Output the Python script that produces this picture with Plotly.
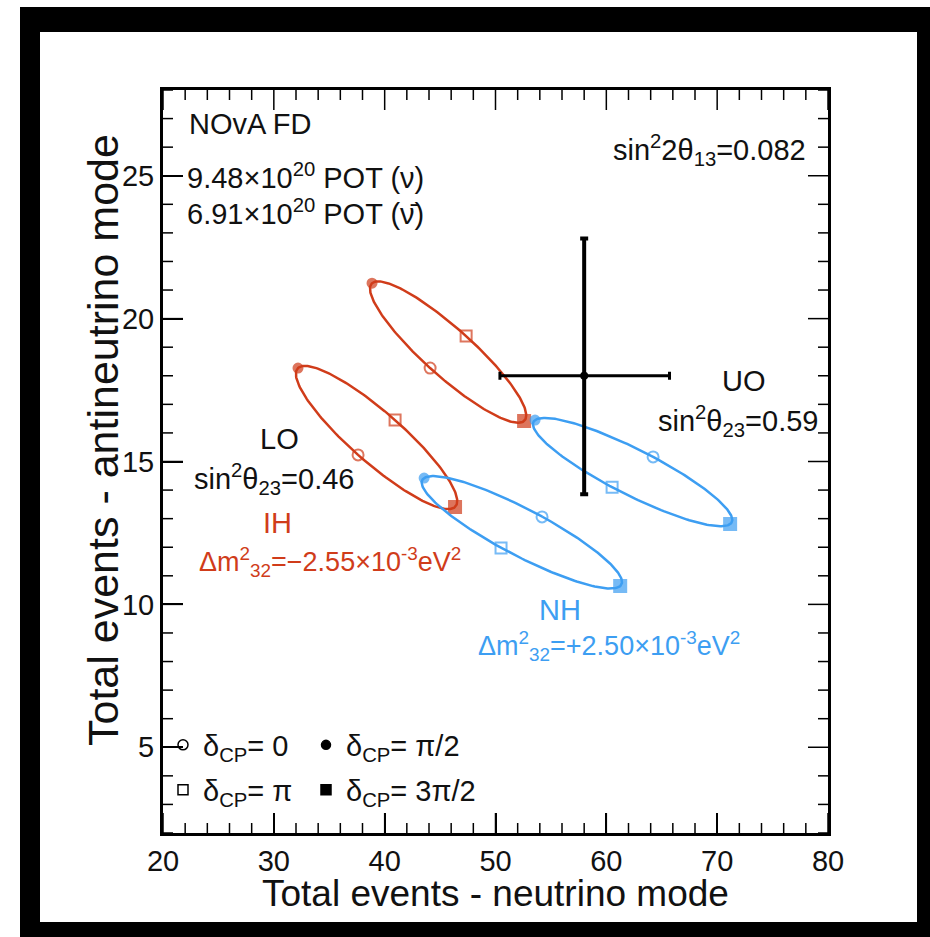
import numpy as np
import plotly.graph_objects as go

# ---- data ----
# Each ellipse: points at delta_CP = 0, pi/2, pi, 3pi/2  (x = neutrino-mode, y = antineutrino-mode)
ih_lo_x = [37.6, 32.18, 40.94, 46.35]
ih_lo_y = [15.23, 18.27, 16.45, 13.41]
ih_uo_x = [44.1, 38.86, 47.35, 52.58]
ih_uo_y = [18.27, 21.24, 19.39, 16.42]
nh_lo_x = [54.2, 43.56, 50.5, 61.25]
nh_lo_y = [13.06, 14.42, 11.97, 10.64]
nh_uo_x = [64.22, 53.57, 60.52, 71.17]
nh_uo_y = [15.16, 16.45, 14.1, 12.81]

data_x = [58.0]
data_y = [18.0]
data_x_err_minus = [7.6]
data_x_err_plus = [7.7]
data_y_err_minus = [4.15]
data_y_err_plus = [4.8]

x_ticks = [20, 30, 40, 50, 60, 70, 80]
y_ticks = [5, 10, 15, 20, 25]
x_range = [20, 80]
y_range = [2, 28]
x_minor_step = 2
y_minor_step = 1

RED = "#d03c1a"
BLUE = "#3d9ef2"
FONT = "Liberation Sans, Arial, Helvetica, sans-serif"
TXT = "#111111"

# plot area in pixels: x 163..828, y 90..833
L, R, T, B = 163, 828, 90, 833
W, H = 930, 937

fig = go.Figure()


def ellipse(px, py):
    # bi-probability ellipse parametrised by delta_CP through the four read points
    cx = np.mean(px)
    cy = np.mean(py)
    ax, ay = (px[0] - px[2]) / 2, (py[0] - py[2]) / 2
    bx, by = (px[1] - px[3]) / 2, (py[1] - py[3]) / 2
    d = np.linspace(0, 2 * np.pi, 241)
    return cx + ax * np.cos(d) + bx * np.sin(d), cy + ay * np.cos(d) + by * np.sin(d)


# ---- inside tick marks on all four sides (ROOT style), derived from the tick lists ----
ux = (R - L) / (x_range[1] - x_range[0])   # px per x unit
uy = (B - T) / (y_range[1] - y_range[0])   # px per y unit
MAJ, MIN = 20, 10
x_minor = [v for v in np.arange(x_range[0], x_range[1] + 1e-9, x_minor_step) if v not in x_ticks]
y_minor = [v for v in np.arange(y_range[0], y_range[1] + 1e-9, y_minor_step) if v not in y_ticks]
tkx, tky = [], []
for vals, ln in [(x_ticks, MAJ), (x_minor, MIN)]:
    for v in vals:
        tkx += [v, v, None, v, v, None]
        tky += [y_range[0], y_range[0] + ln / uy, None, y_range[1], y_range[1] - ln / uy, None]
for vals, ln in [(y_ticks, MAJ), (y_minor, MIN)]:
    for v in vals:
        tky += [v, v, None, v, v, None]
        tkx += [x_range[0], x_range[0] + ln / ux, None, x_range[1], x_range[1] - ln / ux, None]
fig.add_trace(go.Scatter(x=tkx, y=tky, mode="lines", line=dict(color="black", width=1.5),
                         showlegend=False, hoverinfo="skip"))

symbols = ["circle-open", "circle", "square-open", "square"]
sizes = [11, 9, 11, 12]

for px, py, col in [(ih_lo_x, ih_lo_y, RED), (ih_uo_x, ih_uo_y, RED),
                    (nh_lo_x, nh_lo_y, BLUE), (nh_uo_x, nh_uo_y, BLUE)]:
    ex, ey = ellipse(px, py)
    fig.add_trace(go.Scatter(x=ex, y=ey, mode="lines", line=dict(color=col, width=2.5),
                             showlegend=False, hoverinfo="skip"))
    fig.add_trace(go.Scatter(x=px, y=py, mode="markers",
                             marker=dict(symbol=symbols, size=sizes, color=col,
                                         line=dict(color=col, width=2)),
                             showlegend=False))

# data point
fig.add_trace(go.Scatter(
    x=data_x, y=data_y, mode="markers",
    marker=dict(color="black", size=8),
    error_x=dict(type="data", symmetric=False, array=data_x_err_plus,
                 arrayminus=data_x_err_minus, color="black", thickness=3, width=4),
    error_y=dict(type="data", symmetric=False, array=data_y_err_plus,
                 arrayminus=data_y_err_minus, color="black", thickness=4, width=4),
    showlegend=False))


def px_to_paper(xp, yp):
    return (xp - L) / (R - L), (B - yp) / (B - T)


# legend entries: one small legend per entry, laid out 2 x 2
leg_names = ["δ<sub>CP</sub>= 0", "δ<sub>CP</sub>= π/2", "δ<sub>CP</sub>= π", "δ<sub>CP</sub>= 3π/2"]
leg_ids = ["legend", "legend2", "legend3", "legend4"]
leg_pos_px = [(163, 745), (306, 745), (163, 790), (306, 790)]
legend_layout = {}
for name, sym, sz, lg, (lpx, lpy) in zip(leg_names, symbols, [10, 9, 10, 10], leg_ids, leg_pos_px):
    fig.add_trace(go.Scatter(x=[None], y=[None], mode="markers", name=name,
                             marker=dict(symbol=sym, size=sz, color="black",
                                         line=dict(color="black", width=1.5)),
                             legend=lg))
    lx, ly = px_to_paper(lpx, lpy)
    legend_layout[lg] = dict(x=lx, y=ly, xanchor="left", yanchor="middle",
                             bgcolor="rgba(0,0,0,0)", borderwidth=0,
                             font=dict(family=FONT, size=29, color=TXT))

# outer black frame: four bands around the page (outside the plot area)
for (ax0, ay0, ax1, ay1) in [(20, 7, 930, 32),      # top band
                             (20, 922, 930, 937),   # bottom band
                             (20, 7, 40, 937),      # left band
                             (917, 7, 930, 937)]:   # right band
    x0, y0 = px_to_paper(ax0, ay0)
    x1, y1 = px_to_paper(ax1, ay1)
    fig.add_shape(type="rect", xref="paper", yref="paper", x0=x0, y0=y0, x1=x1, y1=y1,
                  fillcolor="black", line=dict(width=0), layer="below")


# annotations
def ann(text, x, y, color=TXT, xanchor="center", size=29):
    fig.add_annotation(text=text, x=x, y=y, xref="x", yref="y", showarrow=False,
                       xanchor=xanchor, yanchor="middle",
                       font=dict(family=FONT, size=size, color=color))


ann("NOvA FD", 22.2, 26.8, xanchor="left")
ann("9.48×10<sup>20</sup> POT (ν)", 22.0, 25.0, xanchor="left")
ann("6.91×10<sup>20</sup> POT (ν̄)", 22.0, 23.72, xanchor="left")
ann("sin<sup>2</sup>2θ<sub>13</sub>=0.082", 78.2, 25.9, xanchor="right")
ann("UO", 72.4, 17.8)
ann("sin<sup>2</sup>θ<sub>23</sub>=0.59", 79.3, 16.4, xanchor="right")
ann("LO", 30.5, 15.8)
ann("sin<sup>2</sup>θ<sub>23</sub>=0.46", 30.0, 14.4)
ann("IH", 30.3, 12.85, color=RED)
ann("Δm<sup>2</sup><sub>32</sub>=−2.55×10<sup>-3</sup>eV<sup>2</sup>", 35.1, 11.5, color=RED, size=27)
ann("NH", 55.8, 9.8, color=BLUE)
ann("Δm<sup>2</sup><sub>32</sub>=+2.50×10<sup>-3</sup>eV<sup>2</sup>", 60.2, 8.55, color=BLUE, size=27)

# axis titles
tx, ty = px_to_paper(495, 893)
fig.add_annotation(text="Total events - neutrino mode", x=tx, y=ty, xref="paper", yref="paper",
                   showarrow=False, xanchor="center", yanchor="middle",
                   font=dict(family=FONT, size=37, color=TXT))
tx, ty = px_to_paper(103, 440)
fig.add_annotation(text="Total events - antineutrino mode", x=tx, y=ty, xref="paper", yref="paper",
                   showarrow=False, xanchor="center", yanchor="middle", textangle=-90,
                   font=dict(family=FONT, size=43, color=TXT))

axis_common = dict(showgrid=False, zeroline=False, showline=True, linecolor="black",
                   linewidth=3, mirror=True, ticks="inside", ticklen=MAJ,
                   tickwidth=1.5, tickcolor="black",
                   tickfont=dict(family=FONT, size=29, color=TXT))

fig.update_xaxes(range=x_range, tickmode="array", tickvals=x_ticks, **axis_common)
fig.update_yaxes(range=y_range, tickmode="array", tickvals=y_ticks, **axis_common)

fig.update_layout(
    template="none",
    width=W, height=H,
    margin=dict(l=L, r=W - R, t=T, b=H - B),
    paper_bgcolor="white", plot_bgcolor="rgba(0,0,0,0)",
    **legend_layout,
)

fig.write_html("out.html")
